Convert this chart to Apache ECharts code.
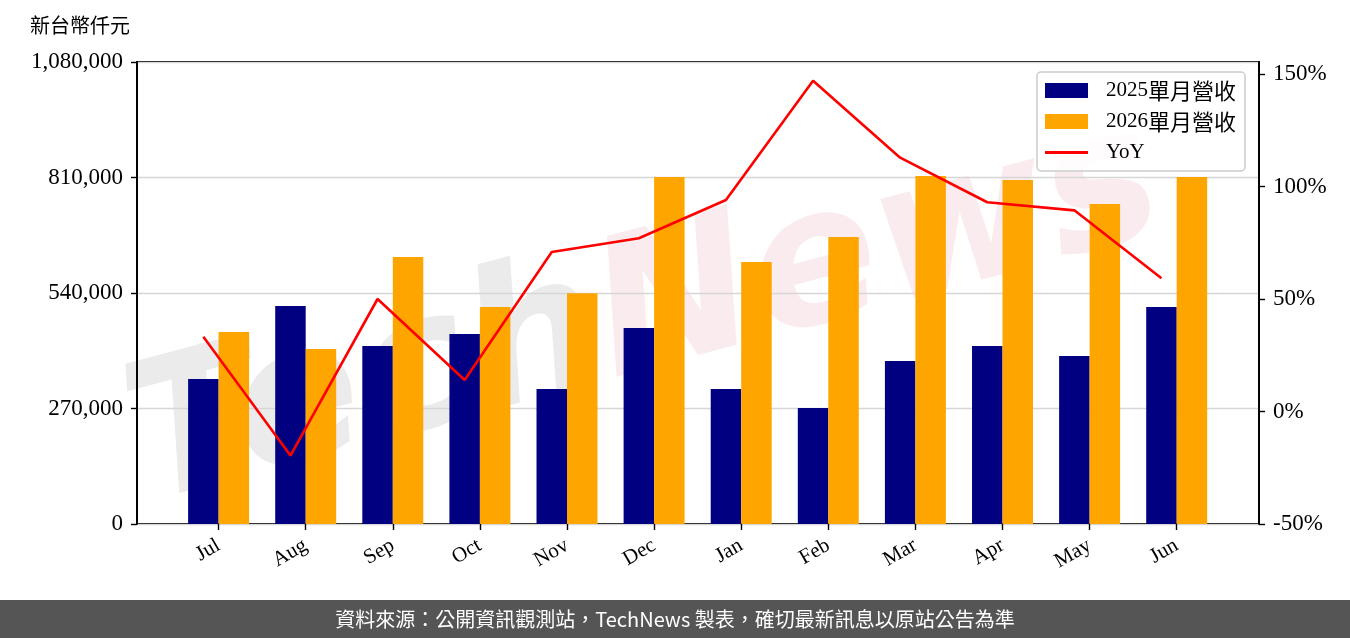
<!DOCTYPE html>
<html><head><meta charset="utf-8">
<script src="https://cdn.jsdelivr.net/npm/echarts@6/dist/echarts.min.js"></script>
<style>html,body{margin:0;padding:0;background:#fff}#c{width:1350px;height:638px}</style>
</head><body><div id="c"></div>
<script>
const categories = ['Jul','Aug','Sep','Oct','Nov','Dec','Jan','Feb','Mar','Apr','May','Jun'];
const revenue2025 = [338960, 509610, 416100, 444160, 315580, 458180, 315580, 271170, 381040, 416100, 392730, 507270];
const revenue2026 = [448830, 409090, 624160, 507270, 539300, 811170, 612470, 670910, 813510, 804160, 748050, 811170];
const yoy = [33.2, -19.6, 50.0, 14.0, 70.9, 77.0, 94.0, 147.0, 112.8, 93.0, 89.4, 59.2];
const seriesNames = ['2025單月營收', '2026單月營收', 'YoY'];
const unitLabel = '新台幣仟元';
const footerText = '資料來源：公開資訊觀測站，TechNews 製表，確切最新訊息以原站公告為準';

const SERIF = '"Liberation Serif", "Noto Sans CJK TC", serif';
const chart = echarts.init(document.getElementById('c'), null, {renderer: 'canvas'});

const plotTop = 62, plotBottom = 114;
const outerLeft = 137, outerRight = 91;
const innerLeft = 175.05, innerRight = 129.75;
const lineShift = 15.25;

chart.setOption({
  animation: false,
  backgroundColor: '#ffffff',
  grid: [
    {left: outerLeft, right: outerRight, top: plotTop, bottom: plotBottom, show: true, borderColor: '#000', borderWidth: 1.8, backgroundColor: 'transparent'},
    {left: innerLeft, right: innerRight, top: plotTop, bottom: plotBottom},
    {left: innerLeft - lineShift, right: innerRight + lineShift, top: plotTop, bottom: plotBottom}
  ],
  xAxis: [
    {gridIndex: 0, type: 'value', min: 0, max: 1, show: false},
    {gridIndex: 1, type: 'category', data: categories, position: 'bottom',
     axisLine: {show: false},
     axisTick: {show: true, alignWithLabel: true, length: 6, lineStyle: {color: '#000', width: 1.4}},
     axisLabel: {rotate: 30, margin: 20, fontSize: 21, color: '#000', fontFamily: SERIF}},
    {gridIndex: 2, type: 'category', data: categories, show: false}
  ],
  yAxis: [
    {gridIndex: 0, type: 'value', position: 'left', min: 0, max: 1080000, interval: 270000,
     axisLine: {show: true, lineStyle: {color: '#000', width: 1.8}},
     axisTick: {show: true, length: 6, lineStyle: {color: '#000', width: 1.4}},
     axisLabel: {margin: 14, fontSize: 23, color: '#000', fontFamily: SERIF,
       formatter: v => v.toLocaleString('en-US')},
     splitLine: {show: true, lineStyle: {color: '#d6d6d6', width: 1.3}}},
    {gridIndex: 0, type: 'value', position: 'right', min: -50, max: 155.33, interval: 50,
     axisLine: {show: true, lineStyle: {color: '#000', width: 1.8}},
     axisTick: {show: true, length: 6, lineStyle: {color: '#000', width: 1.4}},
     axisLabel: {margin: 14, fontSize: 23, color: '#000', fontFamily: SERIF, formatter: '{value}%', showMaxLabel: false},
     splitLine: {show: false}},
    {gridIndex: 1, type: 'value', min: 0, max: 1080000, show: false, splitLine: {show: false}},
    {gridIndex: 2, type: 'value', min: -50, max: 155.33, show: false, splitLine: {show: false}}
  ],
  legend: {
    orient: 'vertical', left: 1037, top: 72,
    padding: [7, 9, 7, 8], itemGap: 8, itemWidth: 43, itemHeight: 15,
    borderColor: '#cccccc', borderWidth: 1.5, borderRadius: 4,
    backgroundColor: 'rgba(255,255,255,0.85)',
    data: [
      {name: seriesNames[0], icon: 'rect'},
      {name: seriesNames[1], icon: 'rect'},
      {name: seriesNames[2], icon: 'path://M0,0L43,0L43,3.2L0,3.2Z'}
    ],
    formatter: name => {
      const m = name.match(/^([\x00-\x7F]*)(.*)$/);
      return (m[1] ? '{d|' + m[1] + '}' : '') + (m[2] ? '{c|' + m[2] + '}' : '');
    },
    textStyle: {
      padding: [0, 0, 0, 13], lineHeight: 23, color: '#000',
      rich: {
        d: {fontSize: 21, fontFamily: SERIF, color: '#000'},
        c: {fontSize: 22, fontFamily: '"Noto Sans CJK TC", "Liberation Serif", serif', color: '#000'}
      }
    }
  },
  series: [
    {name: seriesNames[0], type: 'bar', xAxisIndex: 1, yAxisIndex: 2, data: revenue2025,
     barWidth: '35%', barGap: '0%', itemStyle: {color: '#000080'}},
    {name: seriesNames[1], type: 'bar', xAxisIndex: 1, yAxisIndex: 2, data: revenue2026,
     barWidth: '35%', barGap: '0%', itemStyle: {color: '#FFA500'}},
    {name: seriesNames[2], type: 'line', xAxisIndex: 2, yAxisIndex: 3, data: yoy,
     symbol: 'none', lineStyle: {color: '#ff0000', width: 2.6}, itemStyle: {color: '#ff0000'}, z: 5}
  ],
  graphic: [
    {type: 'group', x: 600, y: 330, rotation: 0.26, z: 50, silent: true, children: [
      {type: 'text', style: {text: 'Tech', x: 0, y: 0, align: 'right', verticalAlign: 'middle',
        font: 'italic bold 190px "DejaVu Sans"', fill: 'rgba(150,150,150,0.19)'}},
      {type: 'text', style: {text: 'News', x: 0, y: 0, align: 'left', verticalAlign: 'middle',
        font: 'italic bold 190px "DejaVu Sans"', fill: 'rgba(220,110,125,0.13)'}}
    ]},
    {type: 'text', left: 30, top: 15, z: 60, style: {text: unitLabel, fontSize: 20,
      fontFamily: '"Noto Sans CJK TC", sans-serif', fill: '#000'}},
    {type: 'rect', left: 0, top: 600, z: 60, shape: {width: 1350, height: 38}, style: {fill: '#555555'}},
    {type: 'text', x: 675, y: 619, z: 61, style: {text: footerText, align: 'center', verticalAlign: 'middle',
      fontSize: 20, fontFamily: '"Noto Sans CJK TC", sans-serif', fill: '#ffffff'}}
  ]
});
</script>
</body></html>
